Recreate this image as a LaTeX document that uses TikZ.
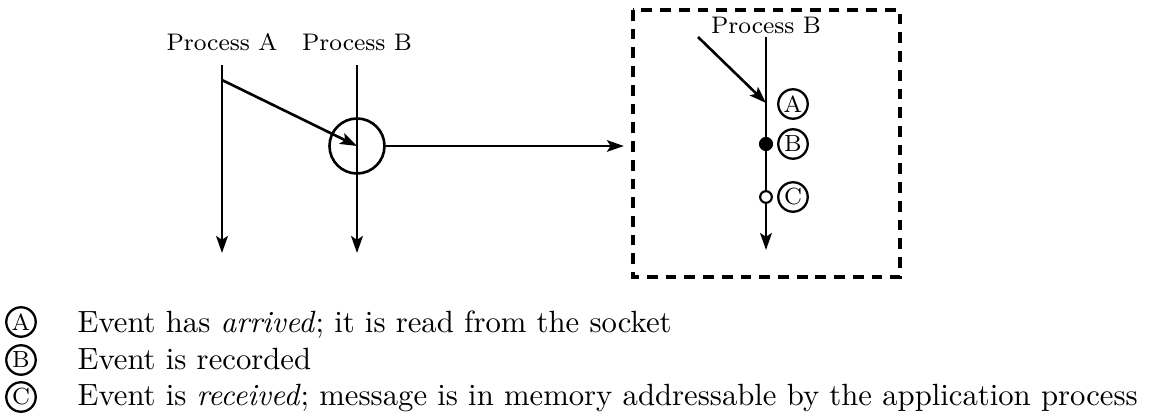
\documentclass[tikz,border=0pt]{standalone}
\usetikzlibrary{arrows.meta}
\tikzset{
  proc/.style={line width=0.85pt},
  evlabel/.style={circle,draw,line width=0.75pt,inner sep=0pt,minimum size=9.6pt,font=\fontsize{7.6}{8}\selectfont},
  plabel/.style={font=\fontsize{7.8}{9}\selectfont,inner sep=0pt}
}
\begin{document}
\begin{tikzpicture}[x=0.3257pt,y=-0.3257pt,>={Stealth[length=5.5pt,width=3.8pt,inset=1.2pt]}]
  \useasboundingbox (0,0) rectangle (1166,420);
  % two processes
  \node[plabel] (labA) at (222,42) {Process A};
  \node[plabel] (labB) at (357,42) {Process B};
  \coordinate (aTop) at (222,65);
  \coordinate (aEnd) at (222,253);
  \coordinate (bTop) at (357,65);
  \coordinate (bEnd) at (357,253);
  \coordinate (aSend) at (222,80);
  \coordinate (bRecv) at (357,146);
  \draw[proc,->] (aTop) -- (aEnd);
  \draw[proc,->] (bTop) -- (bEnd);
  \draw[proc,->] (aSend) -- (bRecv);
  \node[circle,draw,line width=0.85pt,minimum size=55*0.3257pt,inner sep=0pt] (lens) at (bRecv) {};
  % zoomed view
  \coordinate (boxNW) at (633,10);
  \coordinate (boxSE) at (900,277);
  \coordinate (boxW) at (633,146);
  \draw[line width=1.05pt,dash pattern=on 3.5pt off 2.6pt] (boxNW) rectangle (boxSE);
  \draw[line width=0.55pt,->,shorten >=3pt] (lens.east) -- (boxW);
  \node[plabel] (labB2) at (766,25) {Process B};
  \coordinate (b2Top) at (766,37);
  \coordinate (b2End) at (766,250);
  \coordinate (inStart) at (698,37);
  \coordinate (evA) at (766,103);
  \draw[proc,->] (b2Top) -- (b2End);
  \draw[proc,->] (inStart) -- (evA);
  \node[circle,fill,inner sep=0pt,minimum size=4.6pt] (evB) at (766,144) {};
  \node[circle,draw,fill=white,line width=0.7pt,inner sep=0pt,minimum size=3.8pt] (evC) at (766,197) {};
  \node[evlabel] (cA) at (793,104) {A};
  \node[evlabel] (cB) at (793,144) {B};
  \node[evlabel] (cC) at (793,197) {C};
  % legend
  \node[evlabel] (kA) at (21,322) {A};
  \node[evlabel] (kB) at (21,360) {B};
  \node[evlabel] (kC) at (21,397) {C};
  \node[anchor=base west,inner sep=0pt] (tA) at (77,333) {Event has \emph{arrived}; it is read from the socket};
  \node[anchor=base west,inner sep=0pt] (tB) at (77,370) {Event is recorded};
  \node[anchor=base west,inner sep=0pt] (tC) at (77,406) {Event is \emph{received}; message is in memory addressable by the application process};
\end{tikzpicture}
\end{document}
